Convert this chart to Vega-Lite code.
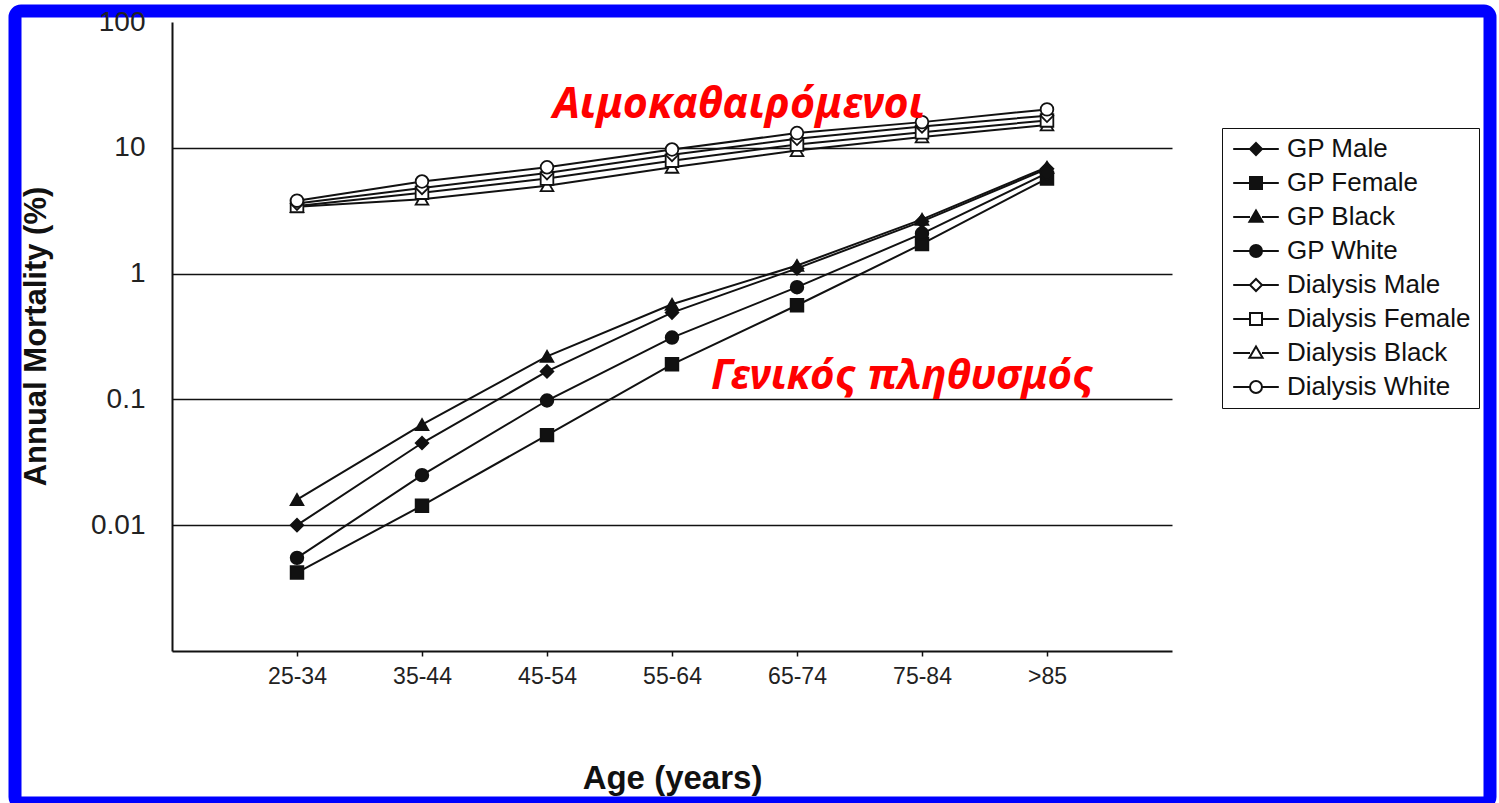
{
  "$schema": "https://vega.github.io/schema/vega-lite/v6.json",
  "width": 1475,
  "height": 792,
  "autosize": {"type": "none"},
  "padding": {"left": 15, "top": 11, "right": 9, "bottom": 0},
  "background": "white",
  "config": {
    "view": {"stroke": "#0000ff", "strokeWidth": 13, "fill": "white", "cornerRadius": 6},
    "font": "Liberation Sans"
  },
  "datasets": {
    "mortality": [
      {"age": "25-34", "series": "GP Male", "value": 0.0100},
      {"age": "35-44", "series": "GP Male", "value": 0.045},
      {"age": "45-54", "series": "GP Male", "value": 0.167},
      {"age": "55-64", "series": "GP Male", "value": 0.49},
      {"age": "65-74", "series": "GP Male", "value": 1.10},
      {"age": "75-84", "series": "GP Male", "value": 2.6},
      {"age": ">85", "series": "GP Male", "value": 6.8},
      {"age": "25-34", "series": "GP Female", "value": 0.0042},
      {"age": "35-44", "series": "GP Female", "value": 0.0143},
      {"age": "45-54", "series": "GP Female", "value": 0.052},
      {"age": "55-64", "series": "GP Female", "value": 0.19},
      {"age": "65-74", "series": "GP Female", "value": 0.56},
      {"age": "75-84", "series": "GP Female", "value": 1.72},
      {"age": ">85", "series": "GP Female", "value": 5.7},
      {"age": "25-34", "series": "GP Black", "value": 0.016},
      {"age": "35-44", "series": "GP Black", "value": 0.063},
      {"age": "45-54", "series": "GP Black", "value": 0.22},
      {"age": "55-64", "series": "GP Black", "value": 0.57},
      {"age": "65-74", "series": "GP Black", "value": 1.16},
      {"age": "75-84", "series": "GP Black", "value": 2.7},
      {"age": ">85", "series": "GP Black", "value": 7.0},
      {"age": "25-34", "series": "GP White", "value": 0.0055},
      {"age": "35-44", "series": "GP White", "value": 0.025},
      {"age": "45-54", "series": "GP White", "value": 0.098},
      {"age": "55-64", "series": "GP White", "value": 0.31},
      {"age": "65-74", "series": "GP White", "value": 0.78},
      {"age": "75-84", "series": "GP White", "value": 2.08},
      {"age": ">85", "series": "GP White", "value": 6.3},
      {"age": "25-34", "series": "Dialysis Black", "value": 3.4},
      {"age": "35-44", "series": "Dialysis Black", "value": 3.9},
      {"age": "45-54", "series": "Dialysis Black", "value": 5.0},
      {"age": "55-64", "series": "Dialysis Black", "value": 7.0},
      {"age": "65-74", "series": "Dialysis Black", "value": 9.5},
      {"age": "75-84", "series": "Dialysis Black", "value": 12.2},
      {"age": ">85", "series": "Dialysis Black", "value": 15.2},
      {"age": "25-34", "series": "Dialysis Female", "value": 3.45},
      {"age": "35-44", "series": "Dialysis Female", "value": 4.4},
      {"age": "45-54", "series": "Dialysis Female", "value": 5.7},
      {"age": "55-64", "series": "Dialysis Female", "value": 7.9},
      {"age": "65-74", "series": "Dialysis Female", "value": 10.6},
      {"age": "75-84", "series": "Dialysis Female", "value": 13.3},
      {"age": ">85", "series": "Dialysis Female", "value": 16.5},
      {"age": "25-34", "series": "Dialysis Male", "value": 3.6},
      {"age": "35-44", "series": "Dialysis Male", "value": 4.8},
      {"age": "45-54", "series": "Dialysis Male", "value": 6.3},
      {"age": "55-64", "series": "Dialysis Male", "value": 8.8},
      {"age": "65-74", "series": "Dialysis Male", "value": 11.8},
      {"age": "75-84", "series": "Dialysis Male", "value": 14.8},
      {"age": ">85", "series": "Dialysis Male", "value": 18.0},
      {"age": "25-34", "series": "Dialysis White", "value": 3.8},
      {"age": "35-44", "series": "Dialysis White", "value": 5.4},
      {"age": "45-54", "series": "Dialysis White", "value": 7.0},
      {"age": "55-64", "series": "Dialysis White", "value": 9.7},
      {"age": "65-74", "series": "Dialysis White", "value": 13.1},
      {"age": "75-84", "series": "Dialysis White", "value": 16.0},
      {"age": ">85", "series": "Dialysis White", "value": 20.2}
    ],
    "notes": [
      {"label": "Αιμοκαθαιρόμενοι", "age": "45-54", "value": 17.4},
      {"label": "Γενικός πληθυσμός", "age": "55-64", "value": 0.122}
    ]
  },
  "encoding": {
    "x": {
      "field": "age",
      "type": "ordinal",
      "sort": ["25-34", "35-44", "45-54", "55-64", "65-74", "75-84", ">85"],
      "scale": {
        "type": "point",
        "domain": ["25-34", "35-44", "45-54", "55-64", "65-74", "75-84", ">85"],
        "range": [157, 1157],
        "padding": 1
      },
      "axis": {
        "title": "Age (years)",
        "offset": -152,
        "labelAngle": 0,
        "labelFont": "Liberation Sans",
        "labelFontSize": 23,
        "labelColor": "#222222",
        "labelPadding": 9,
        "ticks": true,
        "tickSize": 5,
        "tickColor": "#111111",
        "tickWidth": 1.5,
        "domainColor": "#111111",
        "domainWidth": 2,
        "grid": false,
        "titleFont": "Liberation Sans",
        "titleFontSize": 33,
        "titleFontWeight": "bold",
        "titleColor": "#111111",
        "titleBaseline": "alphabetic",
        "titleY": 137
      }
    },
    "y": {
      "field": "value",
      "type": "quantitative",
      "scale": {"type": "log", "domain": [0.001, 100], "range": [640, 11]},
      "axis": {
        "title": "Annual Mortality (%)",
        "offset": -157,
        "values": [100, 10, 1, 0.1, 0.01],
        "format": "~g",
        "labelFont": "Liberation Sans",
        "labelFontSize": 28,
        "labelColor": "#222222",
        "labelPadding": 27,
        "ticks": false,
        "domainColor": "#111111",
        "domainWidth": 2,
        "grid": true,
        "gridColor": {"condition": {"test": "datum.value >= 100", "value": "transparent"}, "value": "#111111"},
        "gridWidth": 1.6,
        "titleFont": "Liberation Sans",
        "titleFontSize": 31,
        "titleFontWeight": "bold",
        "titleColor": "#111111",
        "titleBaseline": "alphabetic",
        "titleAngle": -90,
        "titleX": -127,
        "titleY": 325
      }
    }
  },
  "layer": [
    {
      "data": {"name": "mortality"},
      "mark": {"type": "line", "color": "#111111", "strokeWidth": 2},
      "encoding": {"detail": {"field": "series"}}
    },
    {
      "data": {"name": "mortality"},
      "mark": {"type": "point", "stroke": "#111111", "strokeWidth": 1.8, "opacity": 1, "size": 160},
      "encoding": {
        "fill": {
          "field": "series",
          "type": "nominal",
          "scale": {
            "domain": ["GP Male", "GP Female", "GP Black", "GP White", "Dialysis Male", "Dialysis Female", "Dialysis Black", "Dialysis White"],
            "range": ["#111111", "#111111", "#111111", "#111111", "white", "white", "white", "white"]
          },
          "legend": null
        },
        "shape": {
          "field": "series",
          "type": "nominal",
          "scale": {
            "domain": ["GP Male", "GP Female", "GP Black", "GP White", "Dialysis Male", "Dialysis Female", "Dialysis Black", "Dialysis White"],
            "range": ["diamond", "square", "triangle-up", "circle", "diamond", "square", "triangle-up", "circle"]
          },
          "legend": null
        }
      }
    },
    {
      "data": {"name": "mortality"},
      "mark": {"type": "point", "stroke": "#111111", "strokeWidth": 2, "opacity": 0},
      "encoding": {
        "shape": {
          "field": "series",
          "type": "nominal",
          "scale": {
            "domain": ["GP Male", "GP Female", "GP Black", "GP White", "Dialysis Male", "Dialysis Female", "Dialysis Black", "Dialysis White"],
            "range": [
              "M-3.8,0H-1M1,0H3.8M0,-1L1,0L0,1L-1,0Z",
              "M-3.8,0H-1M1,0H3.8M-1,-1H1V1H-1Z",
              "M-3.8,0H-1M1,0H3.8M0,-1.1L1.1,0.8H-1.1Z",
              "M-3.8,0H-1M1,0H3.8M1,0A1,1,0,1,1,-1,0A1,1,0,1,1,1,0Z",
              "M-3.8,0H-1M1,0H3.8M0,-1L1,0L0,1L-1,0Z",
              "M-3.8,0H-1M1,0H3.8M-1,-1H1V1H-1Z",
              "M-3.8,0H-1M1,0H3.8M0,-1.1L1.1,0.8H-1.1Z",
              "M-3.8,0H-1M1,0H3.8M1,0A1,1,0,1,1,-1,0A1,1,0,1,1,1,0Z"
            ]
          },
          "legend": {
            "title": null,
            "orient": "none",
            "legendX": 1207,
            "legendY": 117,
            "padding": 8,
            "fillColor": "white",
            "strokeColor": "#111111",
            "labelFont": "Liberation Sans",
            "labelFontSize": 26,
            "labelLimit": 400,
            "labelColor": "#111111",
            "symbolSize": 144,
            "symbolOffset": 13,
            "labelOffset": 18,
            "rowPadding": 8,
            "symbolStrokeColor": "#111111",
            "symbolStrokeWidth": 2
          }
        }
      }
    },
    {
      "data": {"name": "mortality"},
      "transform": [{"filter": "indexof(['GP Male', 'GP Female', 'GP Black', 'GP White'], datum.series) >= 0"}],
      "mark": {"type": "point", "filled": true, "color": "#111111", "stroke": "#111111", "strokeWidth": 2, "opacity": 0},
      "encoding": {
        "shape": {
          "field": "series",
          "type": "nominal",
          "scale": {
            "domain": ["GP Male", "GP Female", "GP Black", "GP White"],
            "range": [
              "M-3.8,0H-1M1,0H3.8M0,-1L1,0L0,1L-1,0Z",
              "M-3.8,0H-1M1,0H3.8M-1,-1H1V1H-1Z",
              "M-3.8,0H-1M1,0H3.8M0,-1.1L1.1,0.8H-1.1Z",
              "M-3.8,0H-1M1,0H3.8M1,0A1,1,0,1,1,-1,0A1,1,0,1,1,1,0Z"
            ]
          },
          "legend": {
            "title": null,
            "orient": "none",
            "legendX": 1207,
            "legendY": 117,
            "padding": 8,
            "fillColor": "transparent",
            "strokeColor": "transparent",
            "labelFont": "Liberation Sans",
            "labelFontSize": 26,
            "labelLimit": 400,
            "labelColor": "transparent",
            "symbolSize": 144,
            "symbolOffset": 13,
            "labelOffset": 18,
            "rowPadding": 8,
            "symbolFillColor": "#111111",
            "symbolStrokeColor": "#111111",
            "symbolStrokeWidth": 2
          }
        }
      }
    },
    {
      "data": {"name": "notes"},
      "transform": [{"filter": "datum.age === '45-54'"}],
      "mark": {"type": "text", "color": "#ff0000", "font": "Noto Sans", "fontSize": 43, "fontWeight": "bold", "fontStyle": "italic", "align": "left", "baseline": "alphabetic", "dx": 6},
      "encoding": {"text": {"field": "label"}}
    },
    {
      "data": {"name": "notes"},
      "transform": [{"filter": "datum.age === '55-64'"}],
      "mark": {"type": "text", "color": "#ff0000", "font": "Noto Sans", "fontSize": 42, "fontWeight": "bold", "fontStyle": "italic", "align": "left", "baseline": "alphabetic", "dx": 39},
      "encoding": {"text": {"field": "label"}}
    }
  ],
  "resolve": {"scale": {"shape": "independent", "fill": "independent"}}
}
